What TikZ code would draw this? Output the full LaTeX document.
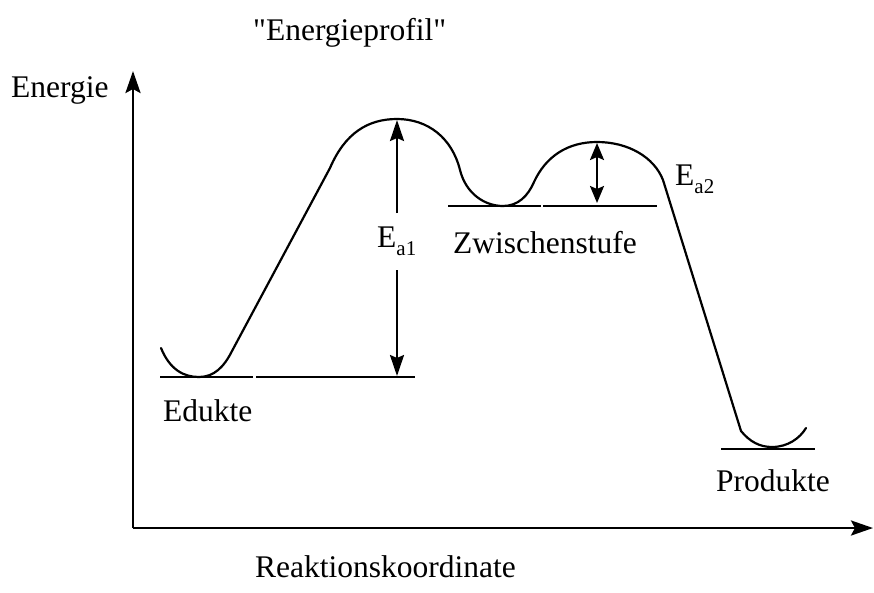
\documentclass[tikz,border=0pt]{standalone}
\usepackage{fontspec}
\setmainfont{Liberation Serif}
\usetikzlibrary{arrows.meta}
\tikzset{
  lbl/.style={inner sep=0pt, anchor=base west, font=\fontsize{31.5}{36}\selectfont},
  curve/.style={line width=2.2pt, line join=round, line cap=round},
  axis/.style={line width=2.8pt, -{Stealth[length=22pt,width=15pt,inset=4pt]}},
  thick level/.style={line width=2.2pt},
  thin level/.style={line width=1.2pt},
  ea/.style={line width=2.3pt, -{Stealth[length=21pt,width=14pt,inset=3pt]}},
  eab/.style={line width=2.3pt, {Stealth[length=17pt,width=14pt,inset=3pt]}-{Stealth[length=17pt,width=14pt,inset=3pt]}}
}
\newcommand{\sbs}[1]{\raisebox{-0.28em}{\fontsize{21}{24}\selectfont #1}}
\begin{document}
\begin{tikzpicture}[x=1pt,y=-1pt]
\useasboundingbox (0,0) rectangle (874,592);
% axes
\coordinate (O) at (133,528);
\coordinate (ytip) at (133,71);
\coordinate (xtip) at (873,528);
\draw[axis] (O) -- (ytip);
\draw[axis] (O) -- (xtip);
% energy curve
\draw[curve] (161,348) .. controls (170,370) and (184,377) .. (199,377)
  .. controls (214,377) and (224,367) .. (232,351)
  -- (330,168)
  .. controls (345,133) and (368,119) .. (397,119)
  .. controls (428,119) and (452,138) .. (460,170)
  .. controls (466,194) and (485,206) .. (503,206)
  .. controls (518,206) and (528,196) .. (534,182)
  .. controls (546,156) and (568,142) .. (597,142)
  .. controls (628,142) and (654,157) .. (663,180)
  -- (741,431)
  .. controls (750,442) and (760,447) .. (772,447)
  .. controls (788,447) and (800,438) .. (806,428);
% levels
\draw[thick level] (160,377) -- (253,377);
\draw[thin level] (256,377) -- (415,377);
\draw[thick level] (448,206) -- (541,206);
\draw[thin level] (543,206) -- (657,206);
\draw[thick level] (721,449) -- (815,449);
% labels
\node[lbl] (title) at (253,40) {\textquotedbl Energieprofil\textquotedbl};
\node[lbl] (energie) at (11,97) {Energie};
\node[lbl] (edukte) at (163,421) {Edukte};
\node[lbl] (zw) at (453,253) {Zwischenstufe};
\node[lbl] (prod) at (716,491) {Produkte};
\node[lbl] (rk) at (255,577) {Reaktionskoordinate};
\node[lbl] (ea1) at (377,247) {E\sbs{a1}};
\node[lbl] (ea2) at (675,185) {E\sbs{a2}};
% activation arrows
\coordinate (a1u) at (397,213);
\coordinate (a1t) at (397,120);
\coordinate (a1l) at (397,270);
\coordinate (a1b) at (397,376);
\draw[ea] (a1u) -- (a1t);
\draw[ea] (a1l) -- (a1b);
\coordinate (a2t) at (597,143);
\coordinate (a2b) at (597,203);
\draw[eab] (a2b) -- (a2t);
\end{tikzpicture}
\end{document}
